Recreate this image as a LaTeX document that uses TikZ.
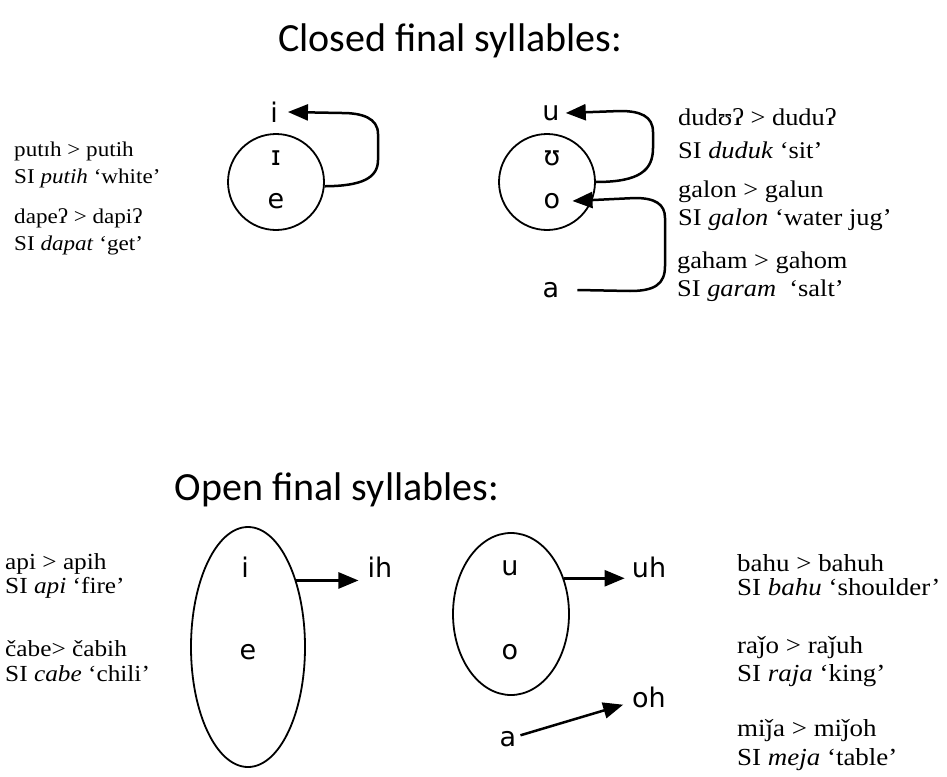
\documentclass[tikz,border=0pt]{standalone}
\usepackage{fontspec}
\setmainfont{Liberation Serif}[FakeStretch=1.1]
\newfontfamily\headfont{Carlito}
\newfontfamily\ipafont{DejaVu Sans}
\usetikzlibrary{arrows.meta,shapes.geometric}

\tikzset{
  heading/.style={font=\headfont\fontsize{40}{44}\selectfont, inner sep=0pt},
  vowel/.style={font=\ipafont\fontsize{27}{30}\selectfont, inner sep=4pt},
  gloss/.style={anchor=west, inner sep=0pt, text height=15pt, text depth=5pt},
  glossA/.style={gloss, font=\fontsize{21}{25}\selectfont},
  glossB/.style={gloss, font=\fontsize{24}{28}\selectfont},
  glossC/.style={gloss, font=\fontsize{23}{27}\selectfont},
  glossD/.style={gloss, font=\fontsize{24.5}{28}\selectfont},
  ring/.style={draw, line width=1.8pt},
  soundshift/.style={line width=2.5pt,
    arrows={-Triangle[length=20pt,width=16pt]}},
}

\begin{document}
\begin{tikzpicture}[x=1pt,y=-1pt]
\useasboundingbox (0,0) rectangle (947,776);

% ---------- closed final syllables ----------
\node[heading] (h1) at (450,41) {Closed final syllables:};

% front vowels
\node[ring, circle, minimum size=96pt, inner sep=0pt] (cf) at (276,182) {};
\node[vowel] (fi) at (274,112) {i};
\node[vowel] (fI) at (276,158) {ɪ};
\node[vowel] (fe) at (276,201) {e};
\draw[soundshift] (cf.-5) .. controls (362,186) and (378,178) .. (378,160)
  -- (378,134) .. controls (378,118) and (362,113) .. (342,113)
  -- ([xshift=6pt]fi.east);

\node[glossA] (g1) at (14,151) {putɪh > putih};
\node[glossA] (g2) at (14,178) {SI \textit{putih} ‘white’};
\node[glossA] (g3) at (14,218) {dapeʔ > dapiʔ};
\node[glossA] (g4) at (14,245) {SI \textit{dapat} ‘get’};

% back vowels
\node[ring, circle, minimum size=96pt, inner sep=0pt] (cb) at (547,182) {};
\node[vowel] (bu) at (551,113) {u};
\node[vowel] (bU) at (552,158) {ʊ};
\node[vowel] (bo) at (552,201) {o};
\node[vowel] (ba) at (551,290) {a};
\draw[soundshift] (cb.east) .. controls (640,182) and (653,170) .. (653,148)
  -- (653,132) .. controls (653,116) and (640,111) .. (620,111)
  -- ([xshift=2pt]bu.east);
\draw[soundshift] ([xshift=14pt]ba.east) -- (630,291)
  .. controls (655,291) and (665,284) .. (665,266)
  -- (665,218) .. controls (665,204) and (655,198) .. (635,198)
  -- ([xshift=8pt]bo.east);

\node[glossB] (g5)  at (678,120) {dudʊʔ > duduʔ};
\node[glossB] (g6)  at (678,153) {SI \textit{duduk} ‘sit’};
\node[glossB] (g7)  at (678,192) {galon > galun};
\node[glossB] (g8)  at (678,220) {SI \textit{galon} ‘water jug’};
\node[glossB] (g9)  at (677,263) {gaham > gahom};
\node[glossB] (g10) at (677,291) {SI \textit{garam} \ ‘salt’};

% ---------- open final syllables ----------
\node[heading] (h2) at (337,490) {Open final syllables:};

% front vowels
\node[ring, ellipse, minimum width=114pt, minimum height=240pt, inner sep=0pt] (ef) at (248,647) {};
\node[vowel] (oi) at (245,567) {i};
\node[vowel] (oe) at (248,652) {e};
\node[vowel] (ih) at (380,567) {ih};
\draw[soundshift, shorten >=5pt] (ef.54) -- (ef.54 -| ih.west);

\node[glossC] (g11) at (5,564) {api > apih};
\node[glossC] (g12) at (5,588) {SI \textit{api} ‘fire’};
\node[glossC] (g13) at (5,651) {čabe> čabih};
\node[glossC] (g14) at (5,676) {SI \textit{cabe} ‘chili’};

% back vowels
\node[ring, ellipse, minimum width=116pt, minimum height=162pt, inner sep=0pt] (eb) at (511,614) {};
\node[vowel] (ou) at (510,568) {u};
\node[vowel] (oo) at (510,652) {o};
\node[vowel] (uh) at (649,567) {uh};
\node[vowel] (oh) at (649,697) {oh};
\node[vowel] (oa) at (508,739) {a};
\draw[soundshift, shorten >=3pt] (eb.34) -- (eb.34 -| uh.west);
\draw[soundshift, shorten >=5pt] (oa) -- (oh);

\node[glossD] (g15) at (737,566) {bahu > bahuh};
\node[glossD] (g16) at (737,590) {SI \textit{bahu} ‘shoulder’};
\node[glossD] (g17) at (737,648) {raǰo > raǰuh};
\node[glossD] (g18) at (737,676) {SI \textit{raja} ‘king’};
\node[glossD] (g19) at (737,731) {miǰa > miǰoh};
\node[glossD] (g20) at (737,760) {SI \textit{meja} ‘table’};
\end{tikzpicture}
\end{document}
